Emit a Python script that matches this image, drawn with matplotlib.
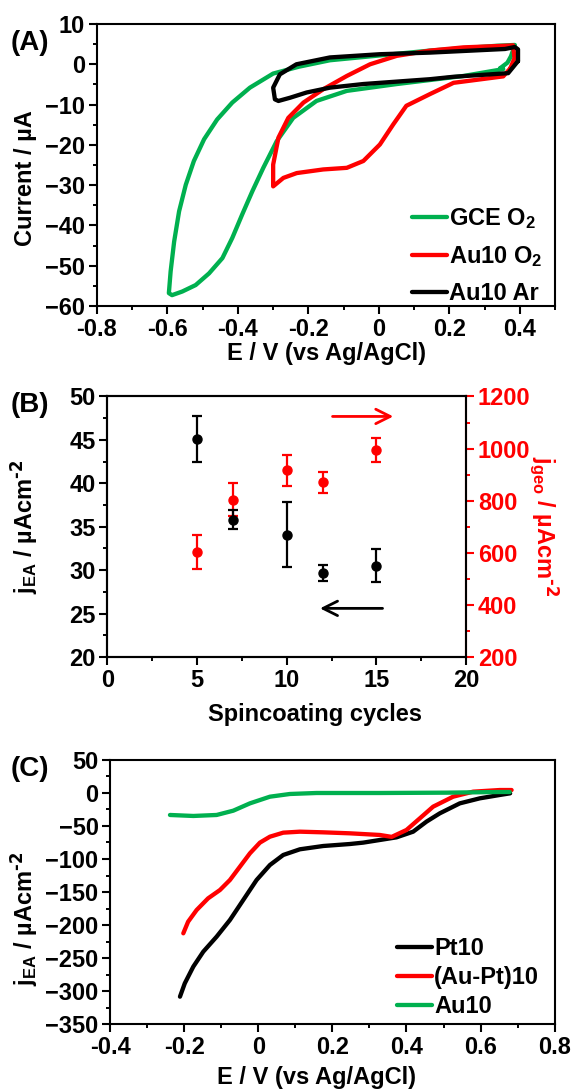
import numpy as np
import matplotlib.pyplot as plt
from matplotlib.ticker import MultipleLocator, FixedLocator

plt.rcParams['font.family'] = ['Liberation Sans', 'DejaVu Sans']
plt.rcParams['font.weight'] = 'bold'
plt.rcParams['axes.labelweight'] = 'bold'
plt.rcParams['mathtext.default'] = 'regular'
plt.rcParams['font.size'] = 17
plt.rcParams['axes.linewidth'] = 1.5
for ax_ in ('xtick', 'ytick'):
    plt.rcParams[ax_ + '.major.width'] = 1.5
    plt.rcParams[ax_ + '.minor.width'] = 1.4
    plt.rcParams[ax_ + '.major.size'] = 5.5
    plt.rcParams[ax_ + '.minor.size'] = 3.2

GREEN = '#00b04f'
RED = '#ff0000'
J_UNIT = r' / µAcm$^{\text{-2}}$'

# (A) cyclic voltammograms: E / V, current / uA
gce_E = [0.344, 0.353, 0.240, 0.051, -0.091, -0.177, -0.243, -0.290, -0.328, -0.359, -0.388,
         -0.416, -0.444, -0.482, -0.520, -0.558, -0.587, -0.596, -0.591, -0.581, -0.567,
         -0.548, -0.525, -0.496, -0.459, -0.416, -0.366, -0.300, -0.227, -0.139, 0.003,
         0.145, 0.335, 0.386, 0.375, 0.365, 0.344]
gce_I = [-1.0, -1.2, -2.9, -4.9, -6.6, -9.1, -13.3, -19.1, -25.7, -31.5, -37.3,
         -43.1, -48.1, -51.9, -54.8, -56.4, -57.3, -56.8, -51.4, -44.0, -36.5,
         -29.9, -24.0, -18.6, -13.7, -9.5, -5.8, -2.3, -0.6, 1.0, 2.2,
         3.4, 4.6, 4.8, 2.0, 0.4, -1.0]

au_o2_E = [0.373, 0.353, 0.212, 0.145, 0.078, 0.041, 0.003, -0.044, -0.091, -0.158, -0.233,
           -0.271, -0.300, -0.300, -0.285, -0.257, -0.214, -0.158, -0.091, -0.025, 0.051,
           0.145, 0.240, 0.358, 0.381, 0.385, 0.373]
au_o2_I = [-1.0, -3.0, -4.6, -7.4, -10.3, -14.9, -19.9, -24.0, -25.7, -26.1, -27.0,
           -28.2, -30.3, -24.9, -18.2, -13.3, -9.5, -6.2, -2.9, 0.0, 2.1,
           3.4, 4.2, 4.6, 4.7, 1.5, -1.0]

au_ar_E = [0.395, 0.367, 0.212, 0.145, -0.044, -0.139, -0.205, -0.252, -0.285, -0.295,
           -0.300, -0.281, -0.234, -0.139, 0.003, 0.145, 0.358, 0.386, 0.395, 0.395]
au_ar_I = [0.8, -2.2, -3.1, -3.7, -4.9, -5.8, -7.0, -8.3, -9.1, -8.7,
           -5.8, -2.5, 0.0, 1.7, 2.5, 2.9, 3.8, 4.3, 3.7, 0.8]

# (B) activity vs. number of spincoating cycles
cycles = [5, 7, 10, 12, 15]
j_ea = [45.1, 35.8, 34.1, 29.7, 30.5]
j_ea_err = [2.7, 1.1, 3.7, 0.9, 1.9]
j_geo = [602, 804, 916, 870, 995]
j_geo_err = [66, 63, 60, 40, 45]

# (C) linear sweeps: E / V, j_EA / uA cm-2
pt_E = [-0.212, -0.199, -0.176, -0.149, -0.113, -0.077, -0.041, -0.005, 0.031, 0.067,
        0.112, 0.175, 0.247, 0.283, 0.373, 0.418, 0.454, 0.490, 0.544, 0.598, 0.652, 0.680]
pt_j = [-308.6, -288.4, -263.1, -240.4, -217.7, -192.4, -162.1, -131.8, -109.1, -93.9,
        -85.3, -80.3, -77.3, -75.2, -67.2, -58.6, -43.4, -30.8, -15.7, -8.1, -3.0, -0.5]
aupt_E = [-0.203, -0.190, -0.167, -0.136, -0.104, -0.077, -0.050, -0.023, 0.004, 0.031,
          0.067, 0.112, 0.175, 0.247, 0.328, 0.360, 0.400, 0.436, 0.472, 0.526, 0.580,
          0.652, 0.684]
aupt_j = [-212.6, -195.0, -177.3, -159.6, -147.0, -131.8, -111.6, -91.4, -75.2, -66.2,
          -60.1, -58.6, -59.6, -61.1, -63.6, -66.5, -56.0, -38.4, -20.7, -5.6, 2.0,
          4.5, 4.5]
au_E = [-0.239, -0.176, -0.113, -0.068, -0.023, 0.031, 0.085, 0.157, 0.247, 0.328,
        0.508, 0.652, 0.679]
au_j = [-33.3, -34.8, -33.3, -26.8, -15.7, -5.6, -1.5, 0.0, 0.0, 0.0,
        0.5, 1.5, 1.5]

fig = plt.figure(figsize=(5.77, 10.91), dpi=100)
axA = fig.add_axes([0.1681, 0.7195, 0.7938, 0.2585])
axB = fig.add_axes([0.1863, 0.3978, 0.6213, 0.2388])
axC = fig.add_axes([0.1913, 0.0614, 0.7698, 0.2420])

kw = dict(lw=3.1, solid_joinstyle='round', solid_capstyle='round')
leg_kw = dict(bbox_transform=fig.transFigure, frameon=False, fontsize=17,
              handlelength=1.5, handletextpad=0.08, borderpad=0, borderaxespad=0)

# --- (A)
axA.plot(gce_E, gce_I, color=GREEN, label='GCE O$_2$', **kw)
axA.plot(au_o2_E, au_o2_I, color=RED, label='Au10 O$_2$', **kw)
axA.plot(au_ar_E, au_ar_I, color='black', label='Au10 Ar', **kw)
axA.set_xlim(-0.8, 0.5)
axA.set_ylim(-60, 10)
axA.set_xticks(np.arange(-0.8, 0.41, 0.2))
axA.set_xticklabels(['-0.8', '-0.6', '-0.4', '-0.2', '0', '0.2', '0.4'])
axA.xaxis.set_minor_locator(FixedLocator(np.arange(-0.7, 0.51, 0.2)))
axA.yaxis.set_major_locator(MultipleLocator(10))
axA.yaxis.set_minor_locator(MultipleLocator(5))
axA.set_xlabel('E / V (vs Ag/AgCl)', labelpad=1)
axA.set_ylabel('Current / µA')
axA.yaxis.set_label_coords(-0.131, 0.454)
axA.legend(loc='upper left', bbox_to_anchor=(412 / 577, 1 - 206 / 1091),
           labelspacing=0.55, **leg_kw)

# --- (B)
axB.errorbar(cycles, j_ea, yerr=j_ea_err, fmt='o', color='black', ms=6.5,
             capsize=3.4, elinewidth=1.6, capthick=1.6)
axB.set_xlim(0, 20)
axB.set_ylim(20, 50)
axB.xaxis.set_major_locator(MultipleLocator(5))
axB.xaxis.set_minor_locator(MultipleLocator(2.5))
axB.yaxis.set_major_locator(MultipleLocator(5))
axB.yaxis.set_minor_locator(MultipleLocator(2.5))
axB.set_xlabel('Spincoating cycles')
axB.xaxis.set_label_coords(0.58, -0.175)
axB.set_ylabel('j$_{EA}$' + J_UNIT)
axB.yaxis.set_label_coords(-0.188, 0.5)
axB.annotate('', xy=(11.7, 25.6), xytext=(15.5, 25.6),
             arrowprops=dict(arrowstyle='->', color='black', lw=2, mutation_scale=26))
axB.annotate('', xy=(16.1, 47.7), xytext=(12.4, 47.7),
             arrowprops=dict(arrowstyle='->', color=RED, lw=2, mutation_scale=26))

axB2 = axB.twinx()
axB2.errorbar(cycles, j_geo, yerr=j_geo_err, fmt='o', color=RED, ms=6.5,
              capsize=3.4, elinewidth=1.6, capthick=1.6)
axB2.set_ylim(200, 1200)
axB2.yaxis.set_major_locator(MultipleLocator(200))
axB2.yaxis.set_minor_locator(MultipleLocator(100))
axB2.spines['right'].set_color(RED)
axB2.tick_params(axis='y', which='both', colors=RED, direction='out', pad=3)
axB2.set_ylabel('j$_{geo}$' + J_UNIT, color=RED, rotation=270, labelpad=22)
# black points sit on top of the red ones
axB.set_zorder(axB2.get_zorder() + 1)
axB.patch.set_visible(False)

# --- (C)
axC.plot(pt_E, pt_j, color='black', label='Pt10', **kw)
axC.plot(aupt_E, aupt_j, color=RED, label='(Au-Pt)10', **kw)
axC.plot(au_E, au_j, color=GREEN, label='Au10', **kw)
axC.set_xlim(-0.4, 0.8)
axC.set_ylim(-350, 50)
axC.set_xticks(np.arange(-0.4, 0.81, 0.2))
axC.set_xticklabels(['-0.4', '-0.2', '0', '0.2', '0.4', '0.6', '0.8'])
axC.xaxis.set_minor_locator(FixedLocator(np.arange(-0.3, 0.8, 0.2)))
axC.yaxis.set_major_locator(MultipleLocator(50))
axC.yaxis.set_minor_locator(MultipleLocator(25))
axC.set_xlabel('E / V (vs Ag/AgCl)')
axC.xaxis.set_label_coords(0.465, -0.16)
axC.set_ylabel('j$_{EA}$' + J_UNIT)
axC.yaxis.set_label_coords(-0.158, 0.40)
axC.legend(loc='upper left', bbox_to_anchor=(397 / 577, 1 - 937 / 1091),
           labelspacing=0.26, **leg_kw)

for ax in (axA, axB, axC):
    ax.tick_params(which='both', direction='out', top=False, right=False, pad=3)

fig.text(0.019, 0.9606, '(A)', fontsize=20, fontweight='bold', va='center')
fig.text(0.019, 0.6288, '(B)', fontsize=20, fontweight='bold', va='center')
fig.text(0.019, 0.2951, '(C)', fontsize=20, fontweight='bold', va='center')

fig.savefig('out.png', dpi=100)
